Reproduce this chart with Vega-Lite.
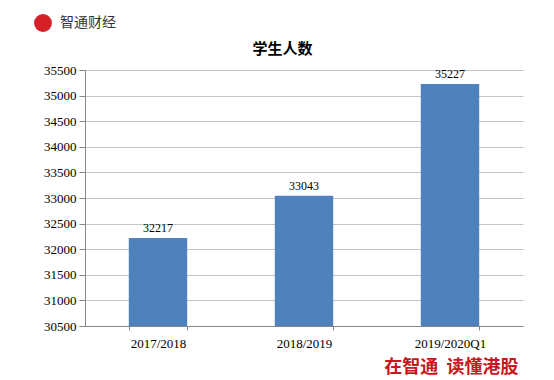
{
  "$schema": "https://vega.github.io/schema/vega-lite/v6.json",
  "width": 438,
  "height": 256,
  "autosize": {"type": "none"},
  "padding": {"left": 85, "top": 70, "right": 31, "bottom": 54},
  "background": "white",
  "config": {"view": {"stroke": null}},
  "data": {
    "values": [
      {"year": "2017/2018", "students": 32217},
      {"year": "2018/2019", "students": 33043},
      {"year": "2019/2020Q1", "students": 35227}
    ]
  },
  "encoding": {
    "x": {
      "field": "year",
      "type": "nominal",
      "sort": null,
      "scale": {"paddingInner": 0.6, "paddingOuter": 0.3},
      "axis": {
        "labelAngle": 0,
        "labelFont": "Liberation Serif",
        "labelFontSize": 13,
        "labelColor": "#000000",
        "labelPadding": 7,
        "tickBand": "extent",
        "tickSize": 4,
        "tickColor": "#868686",
        "domainColor": "#868686",
        "grid": false,
        "title": "在智通\u00a0\u00a0读懂港股",
        "titleFont": "Noto Sans CJK SC",
        "titleFontSize": 18,
        "titleFontWeight": "bold",
        "titleColor": "#c8161d",
        "titleAnchor": "end",
        "titleAlign": "right",
        "titleX": 433,
        "titlePadding": 8
      }
    },
    "y": {
      "field": "students",
      "type": "quantitative",
      "scale": {"domain": [30500, 35500], "nice": false, "zero": false},
      "axis": {
        "values": [30500, 31000, 31500, 32000, 32500, 33000, 33500, 34000, 34500, 35000, 35500],
        "format": "d",
        "labelFont": "Liberation Serif",
        "labelFontSize": 13,
        "labelColor": "#000000",
        "labelPadding": 3,
        "tickSize": 6,
        "tickColor": "#868686",
        "domainColor": "#868686",
        "gridColor": "#c4c4c4",
        "title": "学生人数",
        "titleAngle": 0,
        "titleFont": "Noto Sans CJK SC",
        "titleFontSize": 15,
        "titleFontWeight": "bold",
        "titleColor": "#000000",
        "titleAlign": "center",
        "titleBaseline": "middle",
        "titleX": 197,
        "titleY": -22
      }
    }
  },
  "layer": [
    {"mark": {"type": "bar", "color": "#4f81bd", "clip": true}},
    {
      "mark": {
        "type": "text",
        "dy": -10,
        "font": "Liberation Serif",
        "fontSize": 12,
        "color": "#000000"
      },
      "encoding": {"text": {"field": "students", "type": "quantitative", "format": "d"}}
    },
    {
      "mark": {"type": "point", "opacity": 0, "filled": true},
      "encoding": {
        "color": {
          "datum": "智通财经",
          "scale": {"range": ["#d42027"]},
          "legend": {
            "title": null,
            "orient": "none",
            "legendX": -51,
            "legendY": -56,
            "padding": 0,
            "symbolType": "circle",
            "symbolSize": 320,
            "symbolOpacity": 1,
            "symbolFillColor": "#d42027",
            "symbolStrokeWidth": 0,
            "labelFont": "Noto Sans CJK SC",
            "labelFontSize": 14,
            "labelColor": "#333333",
            "labelOffset": 8
          }
        }
      }
    }
  ]
}
